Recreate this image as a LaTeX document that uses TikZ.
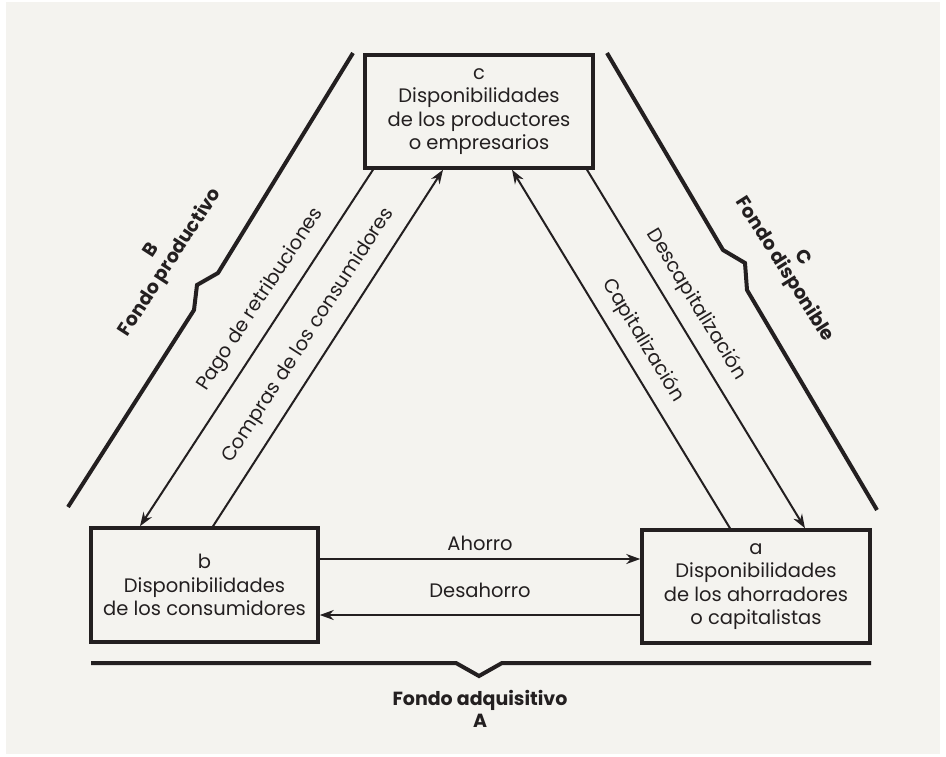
\documentclass[tikz,border=0pt]{standalone}
\usepackage{fontspec}
\setmainfont{Poppins}
\usetikzlibrary{arrows.meta,positioning}
\definecolor{fondo}{HTML}{F4F3EF}
\definecolor{tinta}{HTML}{231F20}

\begin{document}
\begin{tikzpicture}[x=1pt, y=-1pt, color=tinta]
\tikzstyle{caja} = [draw=tinta, line width=3.5pt, minimum width=228pt, minimum height=113pt, align=center, inner sep=0pt, font=\fontsize{19.5}{23.5}\selectfont]
\tikzstyle{flujo} = [line width=2pt, -{Stealth[length=14pt, width=10pt]}]
\tikzstyle{etiqueta} = [font=\fontsize{19.5}{22}\selectfont, sloped, above=12pt, inner sep=0pt]
\tikzstyle{llave} = [line width=4pt, line join=miter]
\tikzstyle{rotulo} = [font=\fontsize{19}{22}\selectfont\bfseries, align=center]

\useasboundingbox (0,0) rectangle (946,756);
\fill[white] (0,0) rectangle (946,756);
\fill[fondo] (6,2) rectangle (940,754);

% cajas
\node[caja] (c) at (479,111.5) {c\\Disponibilidades\\de los productores\\o empresarios};
\node[caja, minimum width=227pt, minimum height=114pt] (b) at (204.5,585) {b\\Disponibilidades\\de los consumidores};
\node[caja] (a) at (756,586.5) {a\\Disponibilidades\\de los ahorradores\\o capitalistas};

% flujos
\draw[flujo] ([xshift=-106pt]c.south) -- node[etiqueta, pos=0.4] {Pago de retribuciones} ([xshift=-64.5pt]b.north);
\draw[flujo] ([xshift=8.5pt]b.north) -- node[etiqueta, pos=0.5] {Compras de los consumidores} ([xshift=-36pt]c.south);
\draw[flujo] ([xshift=-26pt]a.north) -- node[etiqueta, pos=0.49] {Capitalización} ([xshift=33pt]c.south);
\draw[flujo] ([xshift=108pt]c.south) -- node[etiqueta, pos=0.41] {Descapitalización} ([xshift=49pt]a.north);
\draw[flujo] ([yshift=26pt]b.east) -- node[etiqueta, above=7pt] {Ahorro} ([yshift=26pt]b.east -| a.west);
\draw[flujo] ([yshift=-28.5pt]a.west) -- node[etiqueta, above=16pt] {Desahorro} ([yshift=-28.5pt]a.west -| b.east);

% llaves
\draw[llave] (353,53) -- (218,273) -- (197,285) -- (194,310) -- (68,507);
\draw[llave] (607,53) -- (723,250) -- (745,263) -- (747,290) -- (877,510);
\draw[llave] (91,663) -- (456,663) -- (479,676) -- (502,663) -- (871,663);

\node[rotulo, rotate=57] (fb) at (162,257) {B\\Fondo productivo};
\node[rotulo, rotate=-57.5] (fc) at (793,264) {C\\Fondo disponible};
\node[rotulo] (fa) at (480,709) {Fondo adquisitivo\\A};
\end{tikzpicture}
\end{document}
